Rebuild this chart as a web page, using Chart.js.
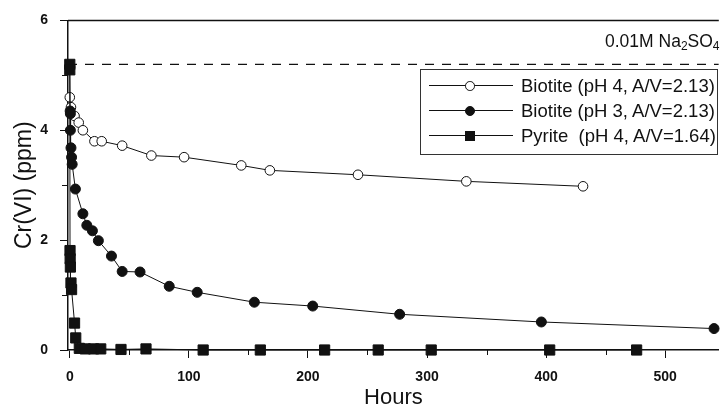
<!DOCTYPE html>
<html>
<head>
<meta charset="utf-8">
<script src="https://cdn.jsdelivr.net/npm/chart.js@4.4.1/dist/chart.umd.min.js"></script>
<style>
  body { margin: 0; background: #fff; }
  #wrap { position: relative; width: 727px; height: 406px; }
  #note { position: absolute; left: 605px; top: 31px; font: 17.5px "Liberation Sans", Arial, sans-serif; color: #111; }
  #note sub { font-size: 12px; vertical-align: -3px; line-height: 0; }
  #legend { position: absolute; left: 420px; top: 69px; width: 296px; height: 84px; border: 1px solid #333; background: #fff;
            font: 18.5px "Liberation Sans", Arial, sans-serif; color: #111; }
  .row { position: absolute; left: 0; width: 296px; height: 24px; }
  .seg { position: absolute; left: 8px; width: 84px; top: 11px; border-top: 1px solid #111; }
  .mk { position: absolute; box-sizing: border-box; }
  .txt { position: absolute; left: 100px; top: 1px; white-space: pre; }
</style>
</head>
<body>
<div id="wrap">
  <canvas id="chart"></canvas>
  <div id="note">0.01M Na<sub>2</sub>SO<sub>4</sub></div>
  <div id="legend"></div>
</div>
<script>
const seriesLabels = ['Biotite (pH 4, A/V=2.13)', 'Biotite (pH 3, A/V=2.13)', 'Pyrite  (pH 4, A/V=1.64)']

const biotite4Hours = [0, 1, 4, 7.5, 11, 20.7, 26.8, 44, 68.5, 96, 144, 168, 242, 333, 431]
const biotite4Cr = [4.6, 4.42, 4.26, 4.14, 4.0, 3.80, 3.80, 3.72, 3.54, 3.51, 3.36, 3.27, 3.19, 3.07, 2.98]

const biotite3Hours = [0, 0.3, 0.5, 0.5, 1, 1.5, 2, 4.7, 11, 14.3, 19, 24, 35, 44, 59, 83.5, 107, 155, 204, 277, 396, 541]
const biotite3Cr = [5.15, 4.35, 4.30, 4.0, 3.68, 3.51, 3.38, 2.93, 2.48, 2.27, 2.17, 1.99, 1.71, 1.43, 1.42, 1.16, 1.05, 0.87, 0.80, 0.65, 0.51, 0.39]

const pyriteHours = [0, 0, 0.2, 0.3, 0.5, 1, 1.5, 4, 5, 8, 13, 20, 26, 43, 64, 112, 160, 214, 259, 303.5, 403, 476]
const pyriteCr = [5.2, 5.1, 1.81, 1.66, 1.51, 1.22, 1.10, 0.49, 0.22, 0.03, 0.02, 0.02, 0.02, 0.01, 0.02, 0, 0, 0, 0, 0, 0, 0]

const naSO4Level = 5.2
const xMin = -1.5, xMax = 545
const yMin = 0, yMax = 6

const pts = (xs, ys) => xs.map((x, i) => ({ x, y: ys[i] }))

const styles = [
  { pointStyle: 'circle', radius: 4.8, fill: '#fff' },
  { pointStyle: 'circle', radius: 5, fill: '#111' },
  { pointStyle: 'rect', radius: 7.2, fill: '#111' },
]
const seriesData = [pts(biotite4Hours, biotite4Cr), pts(biotite3Hours, biotite3Cr), pts(pyriteHours, pyriteCr)]

const datasets = seriesData.map((d, i) => ({
  label: seriesLabels[i],
  data: d,
  showLine: true,
  borderColor: '#111',
  borderWidth: 1,
  pointStyle: styles[i].pointStyle,
  pointRadius: styles[i].radius,
  pointBackgroundColor: styles[i].fill,
  pointBorderColor: '#111',
  pointBorderWidth: 1,
  clip: false,
  order: 3 - i,
}))
datasets.push({
  label: 'level',
  data: [{ x: xMin, y: naSO4Level }, { x: xMax, y: naSO4Level }],
  showLine: true,
  borderColor: '#111',
  borderWidth: 1.2,
  borderDash: [9, 8],
  pointRadius: 0,
  order: 10,
})

const tickFont = { family: '"Liberation Sans", Arial, sans-serif', size: 14, weight: 'bold' }

// top frame line and short minor ticks
const framePlugin = {
  id: 'frame',
  beforeDatasetsDraw(chart) {
    const { ctx, chartArea: a, scales: { x, y } } = chart
    ctx.save()
    ctx.strokeStyle = '#111'
    ctx.lineWidth = 1.5
    ctx.beginPath()
    ctx.moveTo(a.left, a.top)
    ctx.lineTo(a.right, a.top)
    ctx.stroke()
    ctx.lineWidth = 1
    ctx.beginPath()
    for (let v = 50; v < xMax; v += 100) {
      const px = Math.round(x.getPixelForValue(v)) + 0.5
      ctx.moveTo(px, a.bottom)
      ctx.lineTo(px, a.bottom + 5)
    }
    for (let v = 1; v < yMax; v += 2) {
      const py = Math.round(y.getPixelForValue(v)) + 0.5
      ctx.moveTo(a.left, py)
      ctx.lineTo(a.left - 6, py)
    }
    ctx.stroke()
    ctx.restore()
  }
}

new Chart(document.getElementById('chart'), {
  type: 'scatter',
  data: { datasets },
  plugins: [framePlugin],
  options: {
    responsive: true,
    maintainAspectRatio: false,
    animation: false,
    layout: { padding: { top: 19, right: 0, left: 0, bottom: 0 } },
    plugins: { legend: { display: false }, tooltip: { enabled: false } },
    scales: {
      x: {
        type: 'linear',
        min: xMin,
        max: xMax,
        afterBuildTicks: s => { s.ticks = [0, 100, 200, 300, 400, 500].map(value => ({ value })) },
        afterFit: s => { s.height = 56; s.paddingLeft = 0; s.paddingRight = 0 },
        ticks: { font: tickFont, color: '#111', padding: 11, maxRotation: 0 },
        grid: { drawOnChartArea: false, tickLength: 8, color: '#111', tickWidth: 1 },
        border: { color: '#111', width: 1.5 },
        title: { display: true, text: 'Hours', color: '#111', font: { family: '"Liberation Sans", Arial, sans-serif', size: 22 }, padding: { top: 0, bottom: -5 } },
      },
      y: {
        type: 'linear',
        min: yMin,
        max: yMax,
        afterBuildTicks: s => { s.ticks = [0, 2, 4, 6].map(value => ({ value })) },
        afterFit: s => { s.width = 68 },
        ticks: { font: tickFont, color: '#111', padding: 12 },
        grid: { drawOnChartArea: false, tickLength: 8, color: '#111', tickWidth: 1 },
        border: { color: '#111', width: 1.5 },
        title: { display: true, text: 'Cr(VI) (ppm)', color: '#111', font: { family: '"Liberation Sans", Arial, sans-serif', size: 23 }, padding: { top: 11, bottom: 0 } },
      },
    },
  },
})

// legend built from the same series styles
const legend = document.getElementById('legend')
seriesLabels.forEach((lab, i) => {
  const row = document.createElement('div')
  row.className = 'row'
  row.style.top = (4 + i * 25) + 'px'
  const st = styles[i]
  const size = st.pointStyle === 'rect' ? Math.round(st.radius * Math.SQRT2) : st.radius * 2
  const mk = document.createElement('div')
  mk.className = 'mk'
  mk.style.width = size + 'px'
  mk.style.height = size + 'px'
  mk.style.left = (49 - size / 2) + 'px'
  mk.style.top = (12 - size / 2) + 'px'
  mk.style.background = st.fill
  mk.style.border = '1px solid #111'
  if (st.pointStyle === 'circle') mk.style.borderRadius = '50%'
  row.innerHTML = '<div class="seg"></div><div class="txt"></div>'
  row.querySelector('.txt').textContent = lab
  row.appendChild(mk)
  legend.appendChild(row)
})
</script>
</body>
</html>
